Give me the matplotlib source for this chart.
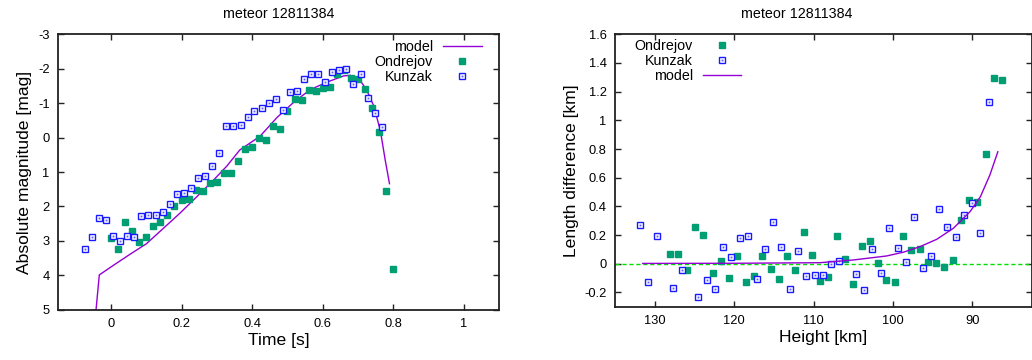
import matplotlib
matplotlib.use("Agg")
import matplotlib.pyplot as plt
from matplotlib.legend_handler import HandlerTuple

plt.rcParams['font.family'] = ['Liberation Sans', 'DejaVu Sans']
plt.rcParams['axes.unicode_minus'] = False

title_txt = "meteor 12811384"

# ---- left panel: light curve ----
ond_t = [0.00, 0.02, 0.04, 0.06, 0.08, 0.10, 0.12, 0.14, 0.16, 0.18, 0.20,
         0.22, 0.24, 0.26, 0.28, 0.30, 0.32, 0.34, 0.36, 0.38, 0.40, 0.42,
         0.44, 0.46, 0.48, 0.50, 0.52, 0.54, 0.56, 0.58, 0.60, 0.62, 0.64,
         0.66, 0.68, 0.70, 0.72, 0.74, 0.76, 0.78, 0.80]
ond_mag = [2.93, 3.25, 2.44, 2.70, 3.02, 2.90, 2.56, 2.44, 2.26, 2.00, 1.80,
           1.77, 1.51, 1.54, 1.33, 1.28, 1.04, 1.04, 0.67, 0.32, 0.26, 0.00,
           0.08, -0.35, -0.24, -0.76, -1.11, -1.08, -1.37, -1.34, -1.43, -1.46,
           -1.84, -1.95, -1.72, -1.69, -1.40, -0.85, -0.15, 1.54, 3.83]

kun_t = [-0.074, -0.054, -0.034, -0.014, 0.007, 0.027, 0.046, 0.066, 0.086,
         0.106, 0.127, 0.147, 0.166, 0.186, 0.206, 0.226, 0.246, 0.267, 0.286,
         0.306, 0.326, 0.347, 0.367, 0.387, 0.406, 0.427, 0.447, 0.467, 0.487,
         0.507, 0.527, 0.547, 0.567, 0.587, 0.607, 0.627, 0.647, 0.667, 0.687,
         0.708, 0.728, 0.748, 0.767]
kun_mag = [3.25, 2.88, 2.33, 2.38, 2.87, 2.99, 2.85, 2.89, 2.29, 2.26, 2.26,
           2.17, 1.94, 1.63, 1.61, 1.47, 1.18, 1.11, 0.82, 0.46, -0.34, -0.34,
           -0.37, -0.61, -0.76, -0.86, -1.01, -1.11, -0.81, -1.32, -1.35, -1.70,
           -1.84, -1.84, -1.61, -1.90, -1.96, -1.99, -1.55, -1.84, -1.16, -0.72,
           -0.30]

model_t = [-0.045, -0.033, 0.007, 0.054, 0.101, 0.148, 0.195, 0.243, 0.290,
           0.328, 0.365, 0.4225, 0.470, 0.517, 0.564, 0.6115, 0.659, 0.678,
           0.706, 0.725, 0.744, 0.763, 0.777, 0.789]
model_mag = [5.3, 3.99, 3.71, 3.39, 3.08, 2.64, 2.20, 1.72, 1.24, 0.83, 0.36,
             -0.04, -0.58, -1.02, -1.39, -1.61, -1.79, -1.81, -1.66, -1.37,
             -0.93, -0.21, 0.66, 1.34]

# ---- right panel: length difference vs height ----
ond_h = [128.02, 127.01, 125.92, 124.87, 123.86, 122.72, 121.71, 120.70,
         119.65, 118.56, 117.55, 116.54, 115.40, 114.40, 113.39, 112.38,
         111.24, 110.23, 109.22, 108.13, 107.08, 106.07, 105.06, 103.92,
         102.91, 101.90, 100.89, 99.76, 98.75, 97.74, 96.60, 95.59, 94.58,
         93.58, 92.44, 91.43, 90.42, 89.41, 88.28, 87.27, 86.26]
ond_dl = [0.070, 0.070, -0.047, 0.258, 0.202, -0.063, 0.021, -0.098, 0.056,
          -0.126, -0.084, 0.056, -0.035, -0.105, 0.056, -0.042, 0.223, 0.063,
          -0.119, -0.091, 0.195, 0.035, -0.140, 0.126, 0.160, 0.007, -0.112,
          -0.126, 0.195, 0.098, 0.105, 0.014, 0.007, -0.021, 0.028, 0.307,
          0.447, 0.433, 0.767, 1.298, 1.284]

kun_h = [131.81, 130.80, 129.75, 127.64, 126.59, 124.49, 123.44, 122.43,
         121.42, 120.37, 119.27, 118.22, 117.17, 116.12, 115.07, 114.06,
         113.01, 111.96, 110.95, 109.85, 108.80, 107.75, 106.74, 104.64,
         103.63, 102.58, 101.52, 100.47, 99.42, 98.37, 97.32, 96.27, 95.26,
         94.21, 93.15, 92.10, 91.09, 90.00, 89.01, 87.94]
kun_dl = [0.267, -0.128, 0.193, -0.172, -0.044, -0.233, -0.114, -0.177, 0.114,
          0.044, 0.177, 0.193, -0.107, 0.105, 0.291, 0.114, -0.179, 0.086,
          -0.086, -0.077, -0.077, 0.000, 0.016, -0.070, -0.184, 0.100, -0.067,
          0.247, 0.109, 0.012, 0.326, -0.028, 0.051, 0.379, 0.253, 0.184,
          0.337, 0.421, 0.214, 1.128]

model_h = [131.5, 120.0, 109.2, 105.0, 100.8, 98.7, 96.6, 94.5, 92.4, 90.3,
           89.0, 87.8, 86.8]
model_dl = [0.002, 0.003, 0.007, 0.026, 0.054, 0.080, 0.119, 0.170, 0.247,
            0.363, 0.467, 0.619, 0.781]

c_model = '#9400d3'
c_ond = '#009e73'
c_kun = '#1a1aff'

fig = plt.figure(figsize=(10.32, 3.6), dpi=100)
ax1 = fig.add_axes([0.0562, 0.1397, 0.4276, 0.765])
ax2 = fig.add_axes([0.5959, 0.148, 0.4041, 0.7567])


def style(ax):
    for s in ax.spines.values():
        s.set_linewidth(1.3)
        s.set_color('#222222')
    ax.tick_params(direction='in', length=4, width=1, top=True, right=True,
                   labelsize=9.3, pad=6, colors='#222222')
    ax.tick_params(labelcolor='black')


def kunzak(ax, x, y):
    sq, = ax.plot(x, y, ls='none', marker='s', ms=4.4, mfc='white',
                  mec=c_kun, mew=1.0)
    dot, = ax.plot(x, y, ls='none', marker='s', ms=1.3, mfc=c_kun,
                   mec='none', alpha=0.7)
    return (sq, dot)


# left
ln1, = ax1.plot(model_t, model_mag, color=c_model, lw=1)
on1, = ax1.plot(ond_t, ond_mag, ls='none', marker='s', ms=4.0, color=c_ond)
ku1 = kunzak(ax1, kun_t, kun_mag)
ax1.set_xlim(-0.15, 1.1)
ax1.set_ylim(5, -3)
ax1.set_xticks([0, 0.2, 0.4, 0.6, 0.8, 1])
ax1.set_xticklabels(['0', '0.2', '0.4', '0.6', '0.8', '1'])
ax1.set_yticks(range(-3, 6))
style(ax1)
ax1.set_xlabel("Time [s]", fontsize=12.6, labelpad=2)
ax1.set_ylabel("Absolute magnitude [mag]", fontsize=12.6, labelpad=4)
ax1.set_title(title_txt, fontsize=10.3, pad=12)
ax1.legend([ln1, on1, ku1], ["model", "Ondrejov", "Kunzak"],
           handler_map={tuple: HandlerTuple(ndivide=1, pad=0)},
           loc='upper right', bbox_to_anchor=(0.960, 0.981), frameon=False,
           markerfirst=False, fontsize=10.3, handlelength=2.7,
           handletextpad=0.7, labelspacing=0.07, borderpad=0,
           borderaxespad=0)

# right
ax2.axhline(0, color='#00dd00', lw=1, ls=(0, (3, 2)))
on2, = ax2.plot(ond_h, ond_dl, ls='none', marker='s', ms=4.0, color=c_ond)
ku2 = kunzak(ax2, kun_h, kun_dl)
ln2, = ax2.plot(model_h, model_dl, color=c_model, lw=1)
ax2.set_xlim(135, 82.5)
ax2.set_ylim(-0.3, 1.6)
ax2.set_xticks([130, 120, 110, 100, 90])
ax2.set_yticks([-0.2, 0, 0.2, 0.4, 0.6, 0.8, 1, 1.2, 1.4, 1.6])
ax2.set_yticklabels(['-0.2', '0', '0.2', '0.4', '0.6', '0.8', '1', '1.2',
                     '1.4', '1.6'])
style(ax2)
ax2.set_xlabel("Height [km]", fontsize=12.6, labelpad=2)
ax2.set_ylabel("Length difference [km]", fontsize=12.6, labelpad=4)
ax2.set_title(title_txt, fontsize=10.3, pad=12, x=0.436)
ax2.legend([on2, ku2, ln2], ["Ondrejov", "Kunzak", "model"],
           handler_map={tuple: HandlerTuple(ndivide=1, pad=0)},
           loc='upper left', bbox_to_anchor=(0.047, 0.981), frameon=False,
           markerfirst=False, fontsize=10.3, handlelength=2.7,
           handletextpad=0.7, labelspacing=0.07, borderpad=0,
           borderaxespad=0)

fig.savefig("out.png", dpi=100)
